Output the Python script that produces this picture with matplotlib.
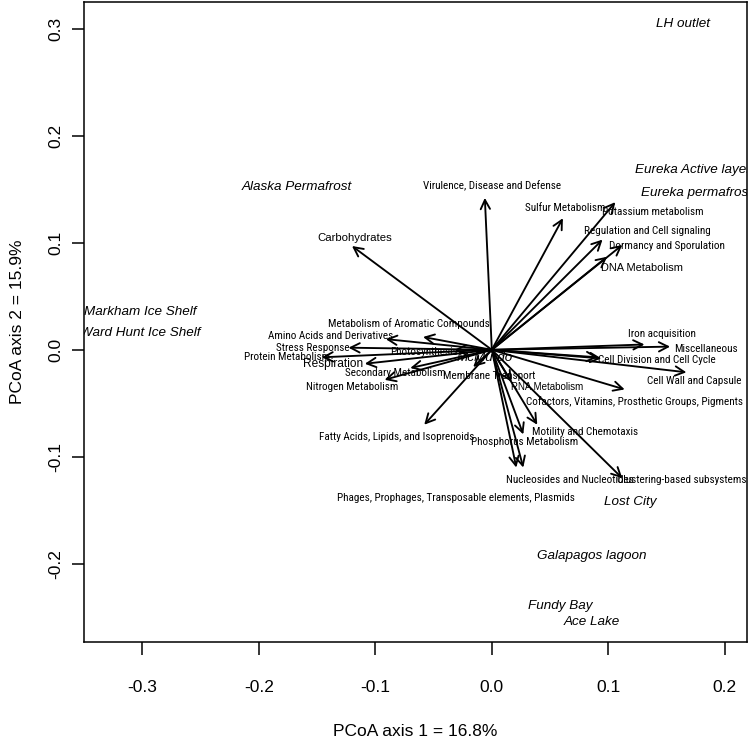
import matplotlib
matplotlib.use("Agg")
import matplotlib.pyplot as plt
from matplotlib.patches import FancyArrowPatch
from matplotlib import font_manager

_fl = font_manager.fontManager.ttflist
_names = {f.name for f in _fl}
REG = "Liberation Sans" if "Liberation Sans" in _names else "DejaVu Sans"


def _is_regular(f):
    return f.style == "normal" and str(f.weight) in ("400", "normal", "regular", "book")


def pick_narrow():
    prefs = ["Liberation Sans Narrow", "Arial Narrow", "Roboto Condensed",
             "Open Sans Condensed", "Noto Sans Condensed", "DejaVu Sans Condensed"]
    for p in prefs:
        for f in _fl:
            if f.name == p and _is_regular(f):
                return font_manager.FontProperties(fname=f.fname), True
    return font_manager.FontProperties(family=REG), False


NARROW_FP, IS_NARROW = pick_narrow()
NARROW_SIZE = 8.0 if IS_NARROW else 6.3

# ---------------- data ----------------
sites = ["LH outlet", "Eureka Active layer", "Eureka permafrost", "Alaska Permafrost",
         "Markham Ice Shelf", "Ward Hunt Ice Shelf", "McMurdo", "Lost City",
         "Galapagos lagoon", "Fundy Bay", "Ace Lake"]
site_x = [0.164, 0.1725, 0.1755, -0.167, -0.302, -0.302, -0.006, 0.119, 0.086, 0.059, 0.086]
site_y = [0.304, 0.168, 0.147, 0.152, 0.035, 0.016, -0.008, -0.142, -0.193, -0.239, -0.254]

functions = ["Virulence, Disease and Defense", "Sulfur Metabolism", "Potassium metabolism",
             "Regulation and Cell signaling", "Dormancy and Sporulation", "DNA Metabolism",
             "Carbohydrates", "Metabolism of Aromatic Compounds", "Amino Acids and Derivatives",
             "Stress Response", "Protein Metabolism", "Respiration", "Photosynthesis",
             "Secondary Metabolism", "Nitrogen Metabolism", "Membrane Transport", "RNA Metabolism",
             "Fatty Acids, Lipids, and Isoprenoids", "Motility and Chemotaxis",
             "Phosphorus Metabolism", "Nucleosides and Nucleotides",
             "Phages, Prophages, Transposable elements, Plasmids", "Clustering-based subsystems",
             "Cofactors, Vitamins, Prosthetic Groups, Pigments", "Cell Wall and Capsule",
             "Cell Division and Cell Cycle", "Iron acquisition", "Miscellaneous", ""]
vec_x = [-0.006, 0.061, 0.106, 0.095, 0.112, 0.099, -0.120, -0.059, -0.091, -0.123, -0.146,
         -0.109, -0.032, -0.070, -0.092, -0.016, 0.017, -0.058, 0.039, 0.027, 0.027, 0.021,
         0.112, 0.114, 0.167, 0.094, 0.131, 0.153, 0.091]
vec_y = [0.142, 0.123, 0.138, 0.103, 0.098, 0.087, 0.097, 0.012, 0.010, 0.002, -0.007,
         -0.013, 0.000, -0.017, -0.028, -0.016, -0.030, -0.070, -0.070, -0.079, -0.110, -0.110,
         -0.120, -0.037, -0.021, -0.008, 0.005, 0.003, -0.007]

x_ticks = [-0.3, -0.2, -0.1, 0.0, 0.1, 0.2]
y_ticks = [-0.2, -0.1, 0.0, 0.1, 0.2, 0.3]
x_title = "PCoA axis 1 = 16.8%"
y_title = "PCoA axis 2 = 15.9%"

# ---------------- layout (label offsets in pixels from arrow tip) ----------------
label_off = [(7, 12), (2, 10), (37, -10), (45, 9), (45, -1), (35, -11), (3, 8), (-14, 13),
             (-55, 3), (-36, 0), (-35, 0), (-32, 0), (-31, -2), (-15, -5), (-32, -7),
             (16, -9), (35, -5), (-28, -12), (48, -7), (1, -8), (47, -12), (-60, -30),
             (59, -2), (10, -12), (8, -9), (56, -2), (17, 10), (36, -2), (0, 0)]
regular_sizes = {"DNA Metabolism": 7.9, "Respiration": 8.6, "RNA Metabolism": 7.0,
                 "Carbohydrates": 8.2}

fig = plt.figure(figsize=(7.5, 7.44), dpi=100)
ax = fig.add_axes([84 / 750, 1 - 642 / 744, (747 - 84) / 750, (642 - 2) / 744])
ax.set_xlim(-0.350, 0.219)
ax.set_ylim(-0.273, 0.325)

for fx, fy, lab, (dx, dy) in zip(vec_x, vec_y, functions, label_off):
    arr = FancyArrowPatch((0, 0), (fx, fy), arrowstyle="->,head_length=0.55,head_width=0.28",
                          mutation_scale=12, lw=1.35, color="black",
                          shrinkA=0, shrinkB=0, zorder=3)
    ax.add_patch(arr)
    if lab:
        if lab in regular_sizes:
            kw = dict(family=REG, fontsize=regular_sizes[lab])
        else:
            fp = NARROW_FP.copy()
            fp.set_size(NARROW_SIZE)
            kw = dict(fontproperties=fp)
        ax.annotate(lab, (fx, fy), xytext=(dx, dy), textcoords="offset pixels",
                    ha="center", va="center", zorder=4, **kw)

for sx, sy, s in zip(site_x, site_y, sites):
    ax.text(sx, sy, s, ha="center", va="center", fontsize=9.7, style="italic",
            family=REG, clip_on=True, zorder=2)

ax.set_xticks(x_ticks)
ax.set_xticklabels([f"{v:.1f}" for v in x_ticks], family=REG, fontsize=12.5)
ax.set_yticks(y_ticks)
ax.set_yticklabels([f"{v:.1f}" for v in y_ticks], family=REG, fontsize=12.5,
                   rotation=90, va="center")
ax.tick_params(direction="out", length=9, width=1.1, pad=6)
ax.tick_params(axis="x", pad=18)
for sp in ax.spines.values():
    sp.set_linewidth(1.1)

fig.text(415 / 750, 1 - 731 / 744, x_title, ha="center", va="center", family=REG, fontsize=12.5)
fig.text(18 / 750, 1 - 322 / 744, y_title, ha="center", va="center", rotation=90,
         family=REG, fontsize=12.5)

fig.savefig("out.png", dpi=100)
